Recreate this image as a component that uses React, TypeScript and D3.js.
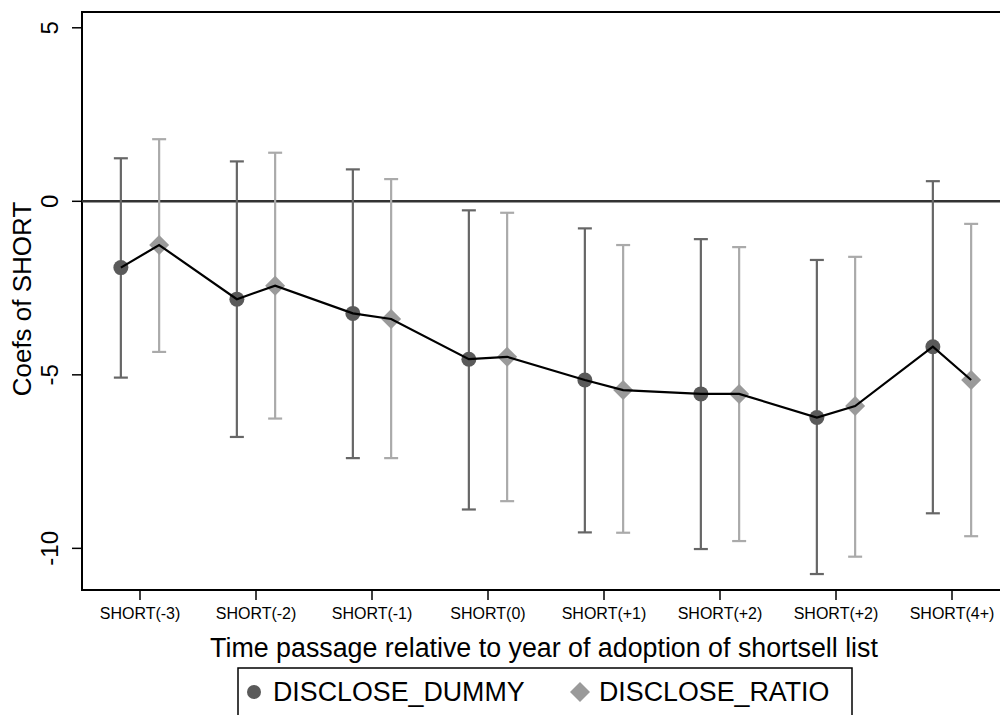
import React, { useEffect, useRef } from "react";
import * as d3 from "d3";

const categories = [
  "SHORT(-3)", "SHORT(-2)", "SHORT(-1)", "SHORT(0)",
  "SHORT(+1)", "SHORT(+2)", "SHORT(+2)", "SHORT(4+)",
];

const dummyCoef = [-1.91, -2.82, -3.23, -4.55, -5.15, -5.55, -6.23, -4.19];
const dummyLo = [-5.08, -6.79, -7.4, -8.88, -9.54, -10.02, -10.74, -8.99];
const dummyHi = [1.24, 1.15, 0.92, -0.26, -0.78, -1.09, -1.69, 0.58];

const ratioCoef = [-1.26, -2.43, -3.39, -4.48, -5.44, -5.55, -5.9, -5.15];
const ratioLo = [-4.34, -6.26, -7.4, -8.64, -9.55, -9.79, -10.24, -9.65];
const ratioHi = [1.79, 1.4, 0.64, -0.33, -1.26, -1.32, -1.6, -0.65];

const yTicks = [5, 0, -5, -10];

const seriesNames = ["DISCLOSE_DUMMY", "DISCLOSE_RATIO"];

export default function App() {
  const svgRef = useRef<SVGSVGElement>(null);

  useEffect(() => {
    const width = 1000;
    const height = 715;
    const font = "'Liberation Sans', Arial, Helvetica, sans-serif";

    const svg = d3.select(svgRef.current);
    svg.selectAll("*").remove();
    svg.attr("width", width).attr("height", height);

    const plot = { left: 82, right: 1010, top: 12, bottom: 590 };

    const x = d3.scaleBand<number>()
      .domain(d3.range(categories.length))
      .range([plot.left, plot.right]);

    const y = d3.scaleLinear()
      .domain([-11.2, 5.455])
      .range([plot.bottom, plot.top]);

    const off = x.bandwidth() * 0.165;
    const cx = (i: number) => (x(i) as number) + x.bandwidth() / 2;

    // frame
    svg.append("rect")
      .attr("x", plot.left)
      .attr("y", plot.top)
      .attr("width", plot.right - plot.left)
      .attr("height", plot.bottom - plot.top)
      .attr("fill", "none")
      .attr("stroke", "#000")
      .attr("stroke-width", 2);

    // y ticks
    const yAxis = svg.append("g");
    yTicks.forEach(t => {
      yAxis.append("line")
        .attr("x1", plot.left - 10).attr("x2", plot.left)
        .attr("y1", y(t)).attr("y2", y(t))
        .attr("stroke", "#000").attr("stroke-width", 1.5);
      yAxis.append("text")
        .attr("transform", `translate(58, ${y(t)}) rotate(-90)`)
        .attr("text-anchor", "middle")
        .style("font-family", font)
        .style("font-size", "24px")
        .text(String(t));
    });

    // x ticks
    const xAxis = svg.append("g");
    categories.forEach((c, i) => {
      xAxis.append("line")
        .attr("x1", cx(i)).attr("x2", cx(i))
        .attr("y1", plot.bottom).attr("y2", plot.bottom + 10)
        .attr("stroke", "#000").attr("stroke-width", 1.5);
      xAxis.append("text")
        .attr("x", cx(i))
        .attr("y", 619)
        .attr("text-anchor", "middle")
        .style("font-family", font)
        .style("font-size", "16px")
        .text(c);
    });

    // zero line
    svg.append("line")
      .attr("x1", plot.left).attr("x2", plot.right)
      .attr("y1", y(0)).attr("y2", y(0))
      .attr("stroke", "#333").attr("stroke-width", 2.5);

    const series = [
      { coef: dummyCoef, lo: dummyLo, hi: dummyHi, dx: -off, bar: "#666666", mark: "#5a5a5a", shape: "circle" },
      { coef: ratioCoef, lo: ratioLo, hi: ratioHi, dx: off, bar: "#aaaaaa", mark: "#9a9a9a", shape: "diamond" },
    ];

    const diamond = (r: number) => `M0,${-r}L${r},0L0,${r}L${-r},0Z`;

    // error bars
    series.forEach(s => {
      const g = svg.append("g");
      s.coef.forEach((_, i) => {
        const px = cx(i) + s.dx;
        g.append("line")
          .attr("x1", px).attr("x2", px)
          .attr("y1", y(s.lo[i])).attr("y2", y(s.hi[i]))
          .attr("stroke", s.bar).attr("stroke-width", 2.2);
        [s.lo[i], s.hi[i]].forEach(v => {
          g.append("line")
            .attr("x1", px - 7).attr("x2", px + 7)
            .attr("y1", y(v)).attr("y2", y(v))
            .attr("stroke", s.bar).attr("stroke-width", 2.2);
        });
      });
    });

    // markers
    series.forEach(s => {
      s.coef.forEach((v, i) => {
        const px = cx(i) + s.dx;
        if (s.shape === "circle") {
          svg.append("circle")
            .attr("cx", px).attr("cy", y(v)).attr("r", 7.5)
            .attr("fill", s.mark);
        } else {
          svg.append("path")
            .attr("transform", `translate(${px},${y(v)})`)
            .attr("d", diamond(10))
            .attr("fill", s.mark);
        }
      });
    });

    // connecting line through both series, in category order
    const pts: [number, number][] = [];
    categories.forEach((_, i) => {
      pts.push([cx(i) - off, y(dummyCoef[i])]);
      pts.push([cx(i) + off, y(ratioCoef[i])]);
    });
    svg.append("path")
      .attr("d", d3.line()(pts))
      .attr("fill", "none")
      .attr("stroke", "#000")
      .attr("stroke-width", 2.2);

    // axis titles
    svg.append("text")
      .attr("transform", `translate(31, ${(plot.top + plot.bottom) / 2 - 2}) rotate(-90)`)
      .attr("text-anchor", "middle")
      .style("font-family", font)
      .style("font-size", "26px")
      .text("Coefs of SHORT");

    svg.append("text")
      .attr("x", 544)
      .attr("y", 657)
      .attr("text-anchor", "middle")
      .style("font-family", font)
      .style("font-size", "26.8px")
      .text("Time passage relative to year of adoption of shortsell list");

    // legend
    const lg = svg.append("g");
    lg.append("rect")
      .attr("x", 238).attr("y", 668)
      .attr("width", 614).attr("height", 70)
      .attr("fill", "none")
      .attr("stroke", "#000")
      .attr("stroke-width", 1.5);
    lg.append("circle")
      .attr("cx", 254).attr("cy", 692).attr("r", 7)
      .attr("fill", series[0].mark);
    lg.append("text")
      .attr("x", 273).attr("y", 701)
      .style("font-family", font)
      .style("font-size", "26.8px")
      .text(seriesNames[0]);
    lg.append("path")
      .attr("transform", "translate(580,692)")
      .attr("d", diamond(10))
      .attr("fill", series[1].mark);
    lg.append("text")
      .attr("x", 599).attr("y", 701)
      .style("font-family", font)
      .style("font-size", "26.8px")
      .text(seriesNames[1]);
  }, []);

  return (
    <div style={{ position: "absolute", left: 0, top: 0 }}>
      <svg ref={svgRef} style={{ display: "block" }}></svg>
    </div>
  );
}
